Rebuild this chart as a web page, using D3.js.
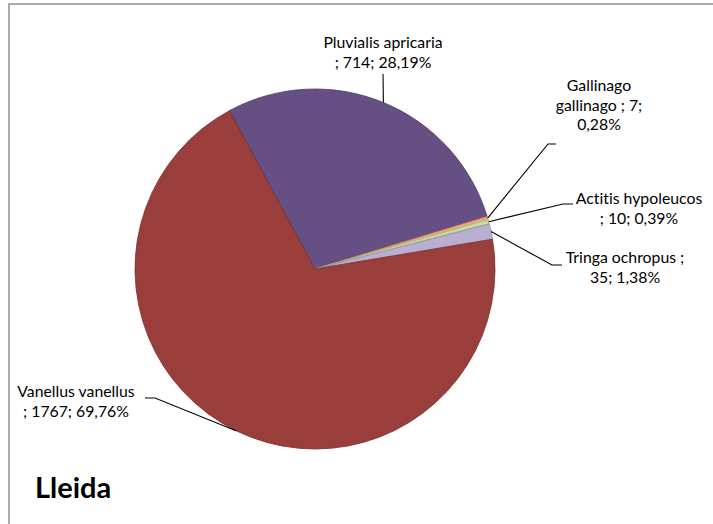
<!DOCTYPE html>
<html><head><meta charset="utf-8">
<script src="https://cdn.jsdelivr.net/npm/d3@7"></script>
<style>html,body{margin:0;padding:0;background:#fff;}svg{display:block;}text{font-variant-ligatures:none;font-feature-settings:"liga" 0;}</style>
</head><body>
<script>
const species = ["Pluvialis apricaria", "Gallinago gallinago", "Actitis hypoleucos", "Tringa ochropus", "Vanellus vanellus"];
const counts = [714, 7, 10, 35, 1767];
const colors = ["#664F82", "#F6A877", "#C6DAA5", "#BAAFD0", "#9A3E3B"];
const strokes = ["#4E3C66", "#D98B5A", "#A0B880", "#9488AC", "#7A2E2C"];
const title = "Lleida";

// label layout: text lines, centre x, first baseline, elbow points
const labelLayout = [
  {lines: ["Pluvialis apricaria", "; 714; 28,19%"], x: 383, y: 48, path: [[383, 74]]},
  {lines: ["Gallinago", "gallinago ; 7;", "0,28%"], x: 599, y: 91, path: [[548, 144], [556, 144]]},
  {lines: ["Actitis hypoleucos", "; 10; 0,39%"], x: 639, y: 204, path: [[563, 204], [573, 204]]},
  {lines: ["Tringa ochropus ;", "35; 1,38%"], x: 625, y: 263, path: [[552, 265], [562, 265]]},
  {lines: ["Vanellus vanellus", "; 1767; 69,76%"], x: 76, y: 397, path: [[155, 398], [145, 398]]}
];

const W = 713, H = 524;
const cx = 315, cy = 269, R = 180;
const svg = d3.select("body").append("svg").attr("width", W).attr("height", H);

svg.append("rect").attr("x", 9).attr("y", 4).attr("width", W + 10).attr("height", H + 10)
  .attr("fill", "#fff").attr("stroke", "#8E8E8E").attr("stroke-width", 1.5);

const start = -28.4 * Math.PI / 180;
const pie = d3.pie().sort(null).value(d => d).startAngle(start).endAngle(start + 2 * Math.PI);
const arcs = pie(counts);
const arc = d3.arc().innerRadius(0).outerRadius(R);

const g = svg.append("g").attr("transform", `translate(${cx},${cy})`);
g.selectAll("path").data(arcs).join("path")
  .attr("d", arc)
  .attr("fill", (d, i) => colors[i])
  .attr("stroke", (d, i) => strokes[i])
  .attr("stroke-width", 0.8)
  .attr("stroke-linejoin", "round");

arcs.forEach((a, i) => {
  const m = (a.startAngle + a.endAngle) / 2;
  const p0 = [cx + R * Math.sin(m), cy - R * Math.cos(m)];
  const L = labelLayout[i];
  const pts = [p0, ...L.path];
  svg.append("path").attr("d", d3.line()(pts)).attr("fill", "none")
    .attr("stroke", "#000").attr("stroke-width", 1.1);
  const t = svg.append("text").attr("font-family", "Lato, 'Open Sans', sans-serif")
    .attr("font-size", 15.8).attr("fill", "#000").attr("text-anchor", "middle");
  L.lines.forEach((ln, k) => {
    t.append("tspan").attr("x", L.x).attr("y", L.y + k * 19.5).text(ln);
  });
});

svg.append("text").attr("x", 35).attr("y", 498)
  .attr("font-family", "Lato, sans-serif").attr("font-weight", "bold")
  .attr("font-size", 29).attr("fill", "#000").text(title);
</script>
</body></html>
